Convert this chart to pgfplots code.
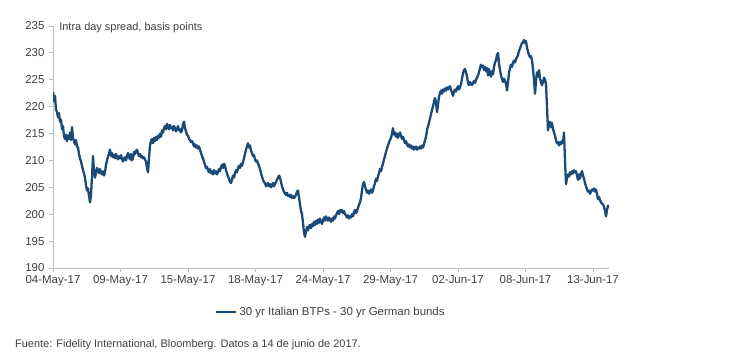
\documentclass[border=0pt]{standalone}
\usepackage{pgfplots}
\pgfplotsset{compat=1.18}
\usepackage{fontspec}
\setmainfont{Liberation Sans}
\definecolor{serie}{HTML}{1A4A78}
\definecolor{axgray}{HTML}{BFBFBF}
\definecolor{txt}{HTML}{404040}
\begin{document}
\begin{tikzpicture}
\useasboundingbox (-53bp,-92bp) rectangle (680bp,268bp);
\begin{axis}[
  scale only axis,
  width=556bp, height=242bp,
  xmin=0, xmax=556, ymin=190, ymax=235,
  clip mode=individual,
  axis x line*=bottom, axis y line*=left,
  axis line style={axgray, line width=0.9bp},
  tick style={axgray, line width=0.9bp},
  tick align=outside,
  major tick length=4bp,
  xtick={0,67.5,135,202.5,270,337.5,405,472.5,540},
  xticklabels={04-May-17,09-May-17,15-May-17,18-May-17,24-May-17,29-May-17,02-Jun-17,08-Jun-17,13-Jun-17},
  ytick={190,195,...,235},
  /pgf/number format/assume math mode=true,
  ticklabel style={font=\fontsize{11.5}{13}\selectfont, text=txt},
  yticklabel style={xshift=-1bp},
  legend style={at={(0.5,-44bp)}, anchor=center, draw=none, fill=none,
    font=\fontsize{11.5}{13}\selectfont, text=txt, legend cell align=left},
  legend image code/.code={\draw[#1, line width=2.2bp] (0bp,0bp) -- (20bp,0bp);},
]
\addplot[serie, line width=2.3bp, line join=round] table[row sep=\\, x expr=\coordindex, y=y] {
y\\
222.8\\221.0\\222.0\\219.5\\219.0\\218.0\\218.8\\217.2\\217.6\\215.8\\216.4\\214.5\\214.0\\214.8\\213.6\\214.6\\214.0\\215.2\\213.8\\216.2\\
214.2\\213.6\\213.0\\213.8\\212.6\\212.4\\211.2\\210.4\\209.8\\209.0\\208.2\\207.6\\206.8\\205.4\\204.4\\204.8\\203.4\\202.2\\203.6\\207.0\\
210.8\\208.0\\206.8\\207.8\\208.6\\208.2\\207.6\\208.4\\207.8\\207.4\\208.0\\207.2\\207.8\\209.2\\210.0\\210.8\\211.2\\212.0\\210.8\\211.4\\
210.6\\211.0\\210.4\\211.2\\210.6\\210.2\\210.8\\210.4\\211.0\\210.2\\209.8\\210.4\\210.6\\210.0\\210.8\\211.4\\210.6\\210.2\\211.2\\210.0\\
210.4\\211.6\\211.2\\211.8\\212.0\\211.4\\210.8\\211.2\\210.6\\210.8\\210.4\\210.6\\210.2\\209.8\\208.6\\207.8\\210.4\\212.8\\213.6\\214.0\\
213.2\\214.2\\213.6\\214.4\\213.8\\214.6\\214.2\\215.0\\214.4\\215.6\\215.2\\216.0\\216.4\\215.8\\216.8\\216.4\\215.8\\216.6\\216.0\\216.2\\
215.6\\216.4\\216.0\\215.4\\215.8\\216.4\\215.6\\215.8\\215.2\\215.6\\216.8\\217.2\\216.0\\215.4\\214.8\\214.6\\214.0\\213.8\\213.4\\213.6\\
213.2\\212.6\\213.0\\212.4\\212.8\\212.2\\212.6\\212.0\\211.4\\210.8\\210.4\\209.8\\209.2\\208.6\\208.8\\208.2\\207.8\\208.4\\207.6\\208.0\\
207.4\\208.2\\207.6\\208.0\\207.4\\207.8\\208.4\\208.0\\208.8\\209.2\\208.6\\209.4\\209.0\\208.2\\207.6\\207.0\\206.6\\206.0\\205.8\\206.4\\
207.2\\206.8\\207.6\\208.2\\207.8\\208.6\\209.0\\208.6\\209.4\\209.0\\209.6\\210.4\\211.2\\212.0\\212.6\\213.2\\212.4\\212.8\\211.8\\211.4\\
210.8\\211.0\\210.2\\209.8\\210.0\\209.4\\209.0\\208.4\\207.6\\207.0\\206.4\\206.0\\205.8\\205.2\\205.4\\205.8\\205.2\\205.6\\205.0\\205.4\\
205.8\\205.2\\205.6\\206.0\\206.4\\206.8\\207.2\\206.8\\206.0\\205.2\\204.6\\204.2\\203.8\\203.6\\204.0\\203.4\\203.6\\203.2\\203.6\\203.0\\
203.4\\203.0\\203.2\\203.6\\204.2\\204.4\\203.2\\201.8\\200.6\\200.0\\198.4\\196.6\\195.8\\196.8\\197.6\\197.0\\197.8\\198.0\\197.4\\198.2\\
197.8\\198.6\\198.0\\198.8\\198.2\\199.0\\198.4\\199.2\\198.6\\198.2\\198.8\\199.4\\198.8\\199.6\\199.2\\198.8\\199.4\\199.0\\198.6\\199.2\\
198.8\\199.6\\199.2\\199.8\\200.2\\200.6\\200.0\\200.8\\200.4\\200.8\\200.2\\200.6\\200.0\\199.8\\199.4\\199.8\\199.2\\199.6\\199.4\\200.0\\
199.6\\200.4\\200.8\\200.2\\200.6\\201.2\\201.8\\202.2\\203.0\\204.4\\205.6\\206.0\\205.2\\204.6\\204.0\\204.4\\203.8\\204.2\\204.6\\204.0\\
204.4\\205.2\\205.8\\206.6\\206.2\\207.0\\207.6\\208.4\\208.0\\208.8\\209.4\\210.2\\210.8\\211.6\\212.2\\212.8\\213.4\\213.8\\214.2\\215.0\\
216.0\\214.8\\215.2\\214.4\\215.0\\214.2\\214.8\\215.2\\214.6\\214.0\\214.4\\213.8\\213.2\\213.6\\213.0\\212.6\\213.0\\212.4\\212.8\\212.2\\
212.6\\212.0\\212.4\\212.6\\212.0\\212.4\\212.2\\212.6\\212.2\\212.8\\212.4\\213.0\\213.8\\214.4\\215.6\\216.4\\217.0\\217.8\\218.6\\219.4\\
220.0\\221.0\\221.6\\220.8\\219.0\\220.4\\221.8\\222.6\\223.0\\222.4\\223.2\\222.8\\223.4\\223.0\\223.6\\223.2\\223.6\\223.8\\223.2\\222.6\\
222.0\\222.8\\223.2\\222.8\\223.4\\223.8\\223.2\\223.6\\224.2\\225.2\\226.2\\226.8\\227.0\\226.4\\225.6\\224.4\\224.0\\224.6\\224.2\\224.0\\
224.4\\224.8\\224.4\\225.0\\225.4\\225.8\\226.4\\227.2\\227.8\\227.4\\227.6\\226.8\\227.4\\226.6\\227.2\\225.8\\227.0\\226.2\\225.6\\226.6\\
226.0\\227.4\\228.2\\228.6\\229.6\\230.0\\228.0\\226.8\\225.8\\225.2\\224.6\\225.2\\224.8\\224.2\\223.0\\224.6\\226.2\\227.2\\227.8\\227.4\\
228.2\\228.6\\228.2\\228.8\\229.2\\229.6\\230.4\\230.8\\231.4\\231.8\\232.0\\232.4\\231.8\\232.2\\231.0\\230.2\\229.6\\229.2\\229.4\\228.6\\
227.0\\225.0\\222.4\\224.8\\226.4\\225.6\\226.8\\225.2\\224.6\\224.0\\224.6\\225.4\\225.0\\224.2\\220.0\\215.6\\216.6\\217.2\\216.2\\217.0\\
215.8\\215.2\\214.6\\213.8\\213.2\\213.4\\212.8\\213.4\\213.0\\213.6\\213.2\\215.2\\210.0\\205.6\\206.8\\207.4\\207.0\\207.8\\207.4\\208.0\\
207.6\\208.2\\207.8\\208.0\\207.2\\206.4\\207.4\\206.6\\207.6\\208.0\\207.2\\206.6\\205.8\\205.2\\204.6\\204.2\\204.4\\203.8\\204.2\\204.6\\
204.4\\204.8\\204.2\\204.6\\203.8\\202.8\\203.2\\202.6\\202.2\\202.0\\201.8\\201.4\\200.6\\199.6\\200.8\\201.6\\201.2\\
};
\addlegendentry{30 yr Italian BTPs - 30 yr German bunds}
\node[anchor=west, font=\fontsize{11}{13}\selectfont, text=txt, inner sep=0pt] at (rel axis cs:0.011,0.995) {Intra day spread, basis points};
\end{axis}
\node[anchor=west, font=\fontsize{11}{13}\selectfont, text=txt, inner sep=0pt] at (-38bp,-77bp) {Fuente: Fidelity International, Bloomberg. Datos a 14 de junio de 2017.};
\end{tikzpicture}
\end{document}
